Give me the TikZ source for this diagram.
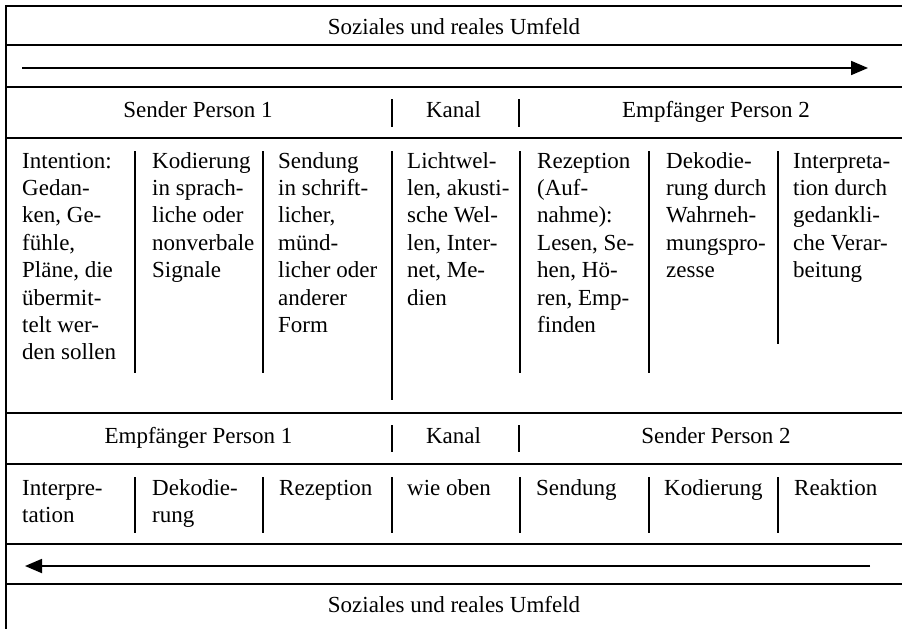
\documentclass[tikz,border=0pt]{standalone}
\usepackage{fontspec}
\setmainfont{Liberation Serif}
\usetikzlibrary{arrows.meta}
\tikzset{
  rule/.style={line width=1.8pt},
  sep/.style={line width=1.8pt},
  flow/.style={line width=1.8pt,-{Triangle[length=17pt,width=14pt]}},
  label/.style={anchor=base,inner sep=0pt,font=\fontsize{23}{27.4}\selectfont},
  coltext/.style={anchor=base west,inner sep=0pt,font=\fontsize{23}{27.4}\selectfont},
}
\newcommand{\colbox}[1]{\parbox[t]{125pt}{\raggedright #1}}
\begin{document}
\begin{tikzpicture}[x=1pt,y=-1pt]
\useasboundingbox (0,0) rectangle (902,629);
% frame lines
\draw[rule] (6,6) -- (902,6);
\draw[rule] (6,45.3) -- (902,45.3);
\draw[rule] (6,87.3) -- (902,87.3);
\draw[rule] (6,138) -- (902,138);
\draw[rule] (6,412.7) -- (902,412.7);
\draw[rule] (6,464.3) -- (902,464.3);
\draw[rule] (6,544) -- (902,544);
\draw[rule] (6,584.3) -- (902,584.3);
\draw[rule] (6,5.1) -- (6,629);
% top label and arrow
\node[label] (top) at (454,34.5) {Soziales und reales Umfeld};
\coordinate (a1s) at (22,68);
\coordinate (a1e) at (868,68);
\draw[flow] (a1s) -- (a1e);
% upper header
\node[label] (s1) at (198,117) {Sender Person 1};
\node[label] (k1) at (453.5,117) {Kanal};
\node[label] (e2) at (716,117) {Empfänger Person 2};
\foreach \x in {391.7,519.3} \draw[sep] (\x,99) -- (\x,127);
% upper body
\node[coltext] (c1) at (22,168) {\colbox{Intention:\\Gedan-\\ken, Ge-\\fühle,\\Pläne, die\\übermit-\\telt wer-\\den sollen}};
\node[coltext] (c2) at (152,168) {\colbox{Kodierung\\in sprach-\\liche oder\\nonverbale\\Signale}};
\node[coltext] (c3) at (278,168) {\colbox{Sendung\\in schrift-\\licher,\\münd-\\licher oder\\anderer\\Form}};
\node[coltext] (c4) at (407,168) {\colbox{Lichtwel-\\len, akusti-\\sche Wel-\\len, Inter-\\net, Me-\\dien}};
\node[coltext] (c5) at (537,168) {\colbox{Rezeption\\(Auf-\\nahme):\\Lesen, Se-\\hen, Hö-\\ren, Emp-\\finden}};
\node[coltext] (c6) at (666,168) {\colbox{Dekodie-\\rung durch\\Wahrneh-\\mungspro-\\zesse}};
\node[coltext] (c7) at (793,168) {\colbox{Interpreta-\\tion durch\\gedankli-\\che Verar-\\beitung}};
\foreach \x/\e in {135/373,262.7/373,391.7/400,520/373,648.7/373,777.7/344}
  \draw[sep] (\x,151) -- (\x,\e);
% lower header
\node[label] (e1) at (198.5,443) {Empfänger Person 1};
\node[label] (k2) at (453.5,443) {Kanal};
\node[label] (s2) at (716,443) {Sender Person 2};
\foreach \x in {391.7,519.3} \draw[sep] (\x,425) -- (\x,452);
% lower body
\node[coltext] (d1) at (22,495) {\colbox{Interpre-\\tation}};
\node[coltext] (d2) at (152,495) {\colbox{Dekodie-\\rung}};
\node[coltext] (d3) at (279,495) {\colbox{Rezeption}};
\node[coltext] (d4) at (407,495) {\colbox{wie oben}};
\node[coltext] (d5) at (536,495) {\colbox{Sendung}};
\node[coltext] (d6) at (664,495) {\colbox{Kodierung}};
\node[coltext] (d7) at (794,495) {\colbox{Reaktion}};
\foreach \x in {135,262.7,391.7,520,648.7,777.7}
  \draw[sep] (\x,477) -- (\x,533);
% bottom arrow and label
\coordinate (a2s) at (870,566);
\coordinate (a2e) at (25,566);
\draw[flow] (a2s) -- (a2e);
\node[label] (bot) at (454,612.5) {Soziales und reales Umfeld};
\end{tikzpicture}
\end{document}
